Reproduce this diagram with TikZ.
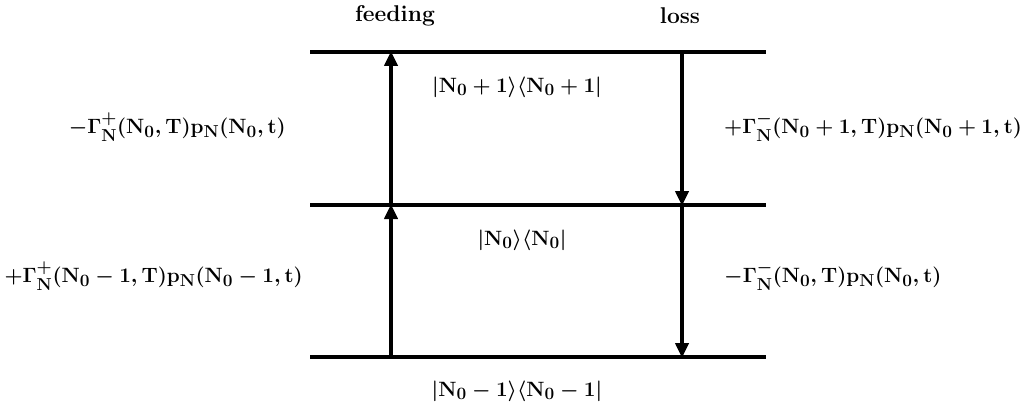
\documentclass[tikz,border=0pt]{standalone}
\usepackage{amsmath}
\usetikzlibrary{arrows.meta}
\newcommand{\bN}{\mathbf{N}}
\newcommand{\bG}{\mathbf{\Gamma}}
\newcommand{\bigt}[1]{\scalebox{1.2}{\bfseries\boldmath #1}}
\begin{document}
\begin{tikzpicture}[x=1pt,y=-1pt,
  lvl/.style={line width=4pt},
  trans/.style={line width=4pt,-{Triangle[width=13pt,length=15pt]},shorten >=-1pt},
  lab/.style={font=\fontsize{19}{22}\selectfont,inner sep=0pt}]
\useasboundingbox (0,0) rectangle (1020,409);
% levels
\coordinate (tl) at (310,52); \coordinate (tr) at (766,52);
\coordinate (ml) at (310,205); \coordinate (mr) at (766,205);
\coordinate (bl) at (310,357); \coordinate (br) at (766,357);
\draw[lvl] (tl) -- (tr);
\draw[lvl] (ml) -- (mr);
\draw[lvl] (bl) -- (br);
% transition points
\coordinate (fb) at (391,357); \coordinate (fm) at (391,205); \coordinate (ft) at (391,52);
\coordinate (lt) at (682,52); \coordinate (lm) at (682,205); \coordinate (lb) at (682,357);
\draw[trans] (fb) -- (fm);
\draw[trans] (fm) -- (ft);
\draw[trans] (lt) -- (lm);
\draw[trans] (lm) -- (lb);
% headers
\node[lab] (feed) at (395,16) {\bigt{feeding}};
\node[lab] (loss) at (680,16) {\bigt{loss}};
% state labels
\node[lab] (s1) at (517,87) {\bigt{$|\bN_0+1\rangle\langle \bN_0+1|$}};
\node[lab] (s0) at (522,240) {\bigt{$|\bN_0\rangle\langle \bN_0|$}};
\node[lab] (sm) at (517,391) {\bigt{$|\bN_0-1\rangle\langle \bN_0-1|$}};
% rates
\node[lab,anchor=east] (r1) at (286,127) {\bigt{$-\bG^+_{\bN}(\bN_0,\mathbf{T})\mathbf{p}_{\bN}(\bN_0,\mathbf{t})$}};
\node[lab,anchor=east] (r2) at (303,276) {\bigt{$+\bG^+_{\bN}(\bN_0-1,\mathbf{T})\mathbf{p}_{\bN}(\bN_0-1,\mathbf{t})$}};
\node[lab,anchor=west] (r3) at (724,127) {\bigt{$+\bG^-_{\bN}(\bN_0+1,\mathbf{T})\mathbf{p}_{\bN}(\bN_0+1,\mathbf{t})$}};
\node[lab,anchor=west] (r4) at (724,276) {\bigt{$-\bG^-_{\bN}(\bN_0,\mathbf{T})\mathbf{p}_{\bN}(\bN_0,\mathbf{t})$}};
\end{tikzpicture}
\end{document}
